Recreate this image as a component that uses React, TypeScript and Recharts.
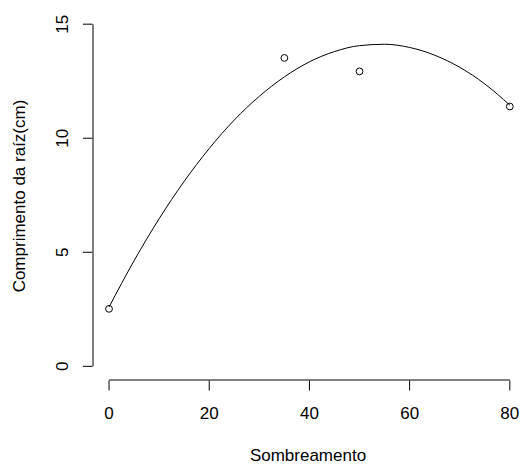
import React from 'react';
import { ComposedChart, XAxis, YAxis, Scatter, Line, ReferenceLine } from 'recharts';

const sombreamento = [0, 35, 50, 80];
const comprimento = [2.52, 13.52, 12.93, 11.39];

const curveX = [0, 5, 10, 15, 20, 25, 30, 35, 40, 45, 50, 55, 60, 65, 70, 75, 80];
const curveY = [2.6, 4.63, 6.47, 8.11, 9.55, 10.8, 11.84, 12.69, 13.35, 13.8, 14.06, 14.12, 13.98, 13.64, 13.11, 12.38, 11.45];

const xTicks = [0, 20, 40, 60, 80];
const yTicks = [0, 5, 10, 15];

const xTitle = 'Sombreamento';
const yTitle = 'Comprimento da raíz(cm)';

const pointData = sombreamento.map((x, i) => ({ x, y: comprimento[i] }));
const curveData = curveX.map((x, i) => ({ x, y: curveY[i] }));

const FONT = '"Liberation Sans", Arial, Helvetica, sans-serif';
const FS = 17;

const XTick = (props: any) => {
  const { x, payload } = props;
  return (
    <g>
      <line x1={x} x2={x} y1={380.5} y2={390.5} stroke="#000" strokeWidth={1} />
      <text x={x} y={419} textAnchor="middle" fontSize={FS} fontFamily={FONT} fill="#000">
        {payload.value}
      </text>
    </g>
  );
};

const YTick = (props: any) => {
  const { y, payload } = props;
  return (
    <g>
      <line x1={83} x2={92.5} y1={y} y2={y} stroke="#000" strokeWidth={1} />
      <text
        x={68}
        y={y}
        transform={`rotate(-90, 68, ${y})`}
        textAnchor="middle"
        fontSize={FS}
        fontFamily={FONT}
        fill="#000"
      >
        {payload.value}
      </text>
    </g>
  );
};

const XTitle = () => (
  <text x={308} y={461} textAnchor="middle" fontSize={FS} fontFamily={FONT} fill="#000">
    {xTitle}
  </text>
);

const YTitle = () => (
  <text
    x={25}
    y={196}
    transform="rotate(-90, 25, 196)"
    textAnchor="middle"
    fontSize={FS}
    fontFamily={FONT}
    fill="#000"
  >
    {yTitle}
  </text>
);

const OpenCircle = (props: any) => {
  const { cx, cy } = props;
  return <circle cx={cx} cy={cy} r={3.4} fill="none" stroke="#000" strokeWidth={1} />;
};

export default function App() {
  return (
    <div style={{ position: 'absolute', left: 0, top: 0, width: 520, height: 464, background: '#fff' }}>
      <ComposedChart width={520} height={464} margin={{ top: 10.5, right: 2, left: 0, bottom: 0 }}>
        <XAxis
          type="number"
          dataKey="x"
          domain={[-3.2, 81.63]}
          ticks={xTicks}
          interval={0}
          axisLine={false}
          tickLine={false}
          tickSize={0}
          tick={<XTick />}
          height={84}
          allowDataOverflow
          label={<XTitle />}
        />
        <YAxis
          type="number"
          dataKey="y"
          domain={[-0.6, 15.6]}
          ticks={yTicks}
          interval={0}
          axisLine={false}
          tickLine={false}
          tickSize={0}
          tick={<YTick />}
          width={93}
          allowDataOverflow
          label={<YTitle />}
        />
        <ReferenceLine
          segment={[{ x: 0, y: -0.6 }, { x: 80, y: -0.6 }]}
          stroke="#000"
          strokeWidth={1}
          ifOverflow="visible"
        />
        <ReferenceLine
          segment={[{ x: -3.2, y: 0 }, { x: -3.2, y: 15 }]}
          stroke="#000"
          strokeWidth={1}
          ifOverflow="visible"
        />
        <Line
          data={curveData}
          dataKey="y"
          type="monotone"
          stroke="#000"
          strokeWidth={1}
          dot={false}
          activeDot={false}
          isAnimationActive={false}
        />
        <Scatter data={pointData} dataKey="y" shape={<OpenCircle />} isAnimationActive={false} />
      </ComposedChart>
    </div>
  );
}
